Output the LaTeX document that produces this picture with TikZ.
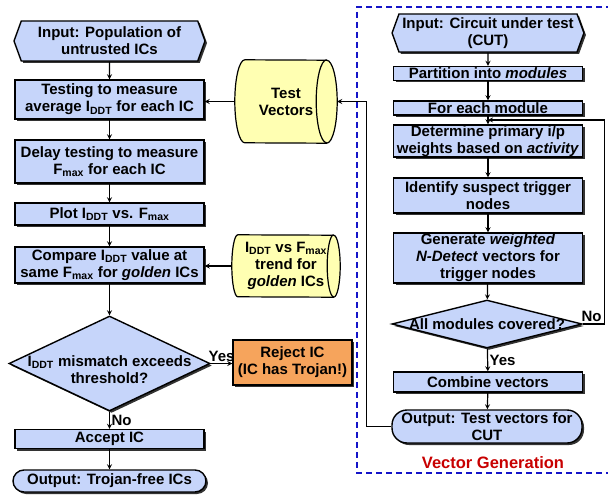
\documentclass[tikz,border=0pt]{standalone}
\usepackage{fontspec}
\setmainfont{Liberation Sans}
\usetikzlibrary{shapes.geometric,shapes.symbols,shadows,calc,backgrounds}
\definecolor{boxblue}{RGB}{198,213,250}
\definecolor{vecyellow}{RGB}{255,255,178}
\definecolor{rejorange}{RGB}{246,164,92}
\definecolor{frameblue}{RGB}{20,20,200}
\definecolor{titlered}{RGB}{200,0,0}
\begin{document}
\begin{tikzpicture}[x=1pt,y=-1pt,
  every node/.style={font=\fontsize{15}{17}\selectfont\bfseries},
  boxshadow/.style={drop shadow={shadow xshift=2pt,shadow yshift=-2pt,fill=black!80,opacity=1}},
  stepbox/.style={draw,line width=1.4pt,fill=boxblue,boxshadow,minimum width=189,align=center,inner xsep=2pt,inner ysep=0.5pt},
  endbox/.style={stepbox,rounded corners=11pt},
  prep/.style={signal,signal to=east and west,signal pointer angle=140,draw,line width=1.4pt,fill=boxblue,boxshadow,align=center,inner ysep=0.5pt},
  store/.style={align=center,inner sep=0pt},
  drum/.style={draw,fill=vecyellow,line width=1.2pt},
  decision/.style={diamond,draw,line width=1.4pt,fill=boxblue,boxshadow,inner sep=0pt},
  flow/.style={-stealth,line width=1.2pt},
  tag/.style={inner sep=1.5pt}]
\useasboundingbox (0,0) rectangle (608,495);
\draw[frameblue,line width=1.3pt,dash pattern=on 6pt off 4pt] (612,7) -- (357,7) -- (357,473) -- (612,473);
\node[prep,minimum width=191,minimum height=40] (in1) at (109.5,41) {Input: Population of\\untrusted ICs};
\node[stepbox,minimum height=39] (test) at (109.5,99.5) {Testing to measure\\average I\textsubscript{DDT} for each IC};
\node[stepbox,minimum height=43] (delay) at (109.5,161.5) {Delay testing to measure\\F\textsubscript{max} for each IC};
\node[stepbox,minimum height=22] (plot) at (109.5,214) {Plot I\textsubscript{DDT} vs. F\textsubscript{max}};
\node[stepbox,minimum height=36] (cmp) at (109.5,265) {Compare I\textsubscript{DDT} value at\\same F\textsubscript{max} for \textit{golden} ICs};
\node[decision,minimum width=201,minimum height=95,label={[align=center,yshift=-6pt]center:I\textsubscript{DDT} mismatch exceeds\\threshold?}] (dec) at (109.5,363.5) {};
\node[stepbox,minimum height=19] (acc) at (109.5,439) {Accept IC};
\node[endbox,minimum width=193,minimum height=22] (out1) at (109.5,481) {Output: Trojan-free ICs};
\node[store,minimum width=102,minimum height=83] (tv) at (286,101.5) {Test\\Vectors};
\node[store,minimum width=108,minimum height=62] (trend) at (286,266) {I\textsubscript{DDT} vs F\textsubscript{max}\\trend for\\\textit{golden} ICs};
\begin{pgfonlayer}{background}
\draw[drum] ([xshift=10pt]tv.north west) arc[start angle=90,end angle=270,x radius=10pt,y radius=41.5pt]
  -- ([xshift=-10.5pt]tv.south east) arc[start angle=-90,end angle=90,x radius=10.5pt,y radius=41.5pt] -- cycle;
\draw[line width=1.2pt] ([xshift=-10.5pt]tv.north east) arc[start angle=90,end angle=270,x radius=10.5pt,y radius=41.5pt];
\draw[drum] ([xshift=6pt]trend.north west) arc[start angle=90,end angle=270,x radius=6pt,y radius=31pt]
  -- ([xshift=-6.5pt]trend.south east) arc[start angle=-90,end angle=90,x radius=6.5pt,y radius=31pt] -- cycle;
\draw[line width=1.2pt] ([xshift=-6.5pt]trend.north east) arc[start angle=90,end angle=270,x radius=6.5pt,y radius=31pt];
\end{pgfonlayer}
\node[stepbox,fill=rejorange,minimum width=119,minimum height=45] (rej) at (292.5,362.5) {Reject IC\\(IC has Trojan!)};
\draw[flow] (in1) -- (test);
\draw[flow] (test) -- (delay);
\draw[flow] (delay) -- (plot);
\draw[flow] (plot) -- (cmp);
\draw[flow] (cmp) -- (dec);
\draw[flow] (dec) -- node[tag,right]{No} (acc);
\draw[flow] (acc) -- (out1);
\draw[flow] (tv.west) -- (tv.west -| test.east);
\draw[flow] (trend.west) -- (trend.west -| cmp.east);
\draw[flow] (dec.east) -- node[tag,above]{Yes} (dec.east -| rej.west);
\node[prep,minimum width=189,minimum height=38] (in2) at (488,33) {Input: Circuit under test\\(CUT)};
\node[stepbox,minimum height=14] (part) at (488,73.5) {Partition into \textit{modules}};
\node[stepbox,minimum height=14] (each) at (488,108) {For each module};
\node[stepbox,minimum height=32] (det) at (488,141) {Determine primary i/p\\weights based on \textit{activity}};
\node[stepbox,minimum height=35] (ident) at (488,195.5) {Identify suspect trigger\\nodes};
\node[stepbox,minimum height=50] (gen) at (488,258) {Generate \textit{weighted}\\\textit{N-Detect} vectors for\\trigger nodes};
\node[decision,minimum width=190,minimum height=48,label={center:All modules covered?}] (dec2) at (487,324) {};
\node[stepbox,minimum height=20] (comb) at (488,382) {Combine vectors};
\node[endbox,minimum width=190,minimum height=33,rounded corners=15pt] (out2) at (487,426.5) {Output: Test vectors for\\CUT};
\node[text=titlered,font=\fontsize{16.5}{18}\selectfont\bfseries] (vgtitle) at (493,463) {Vector Generation};
\coordinate (join) at ($(each.south)!0.5!(det.north)$);
\draw[flow] (in2) -- (part);
\draw[flow] (part) -- (each);
\draw[line width=1.2pt] (each) -- (join);
\draw[flow] (join) -- (det);
\draw[flow] (det) -- (ident);
\draw[flow] (ident) -- (gen);
\draw[flow] (gen) -- (dec2);
\draw[flow] (dec2) -- node[tag,right]{Yes} (comb);
\draw[flow] (comb) -- (out2);
\draw[flow] (dec2.east) -- node[tag,above,pos=0.4]{No} ++(22,0) |- (join);
\draw[flow] (out2.west) -- ++(-25,0) |- (tv.east);
\end{tikzpicture}
\end{document}
